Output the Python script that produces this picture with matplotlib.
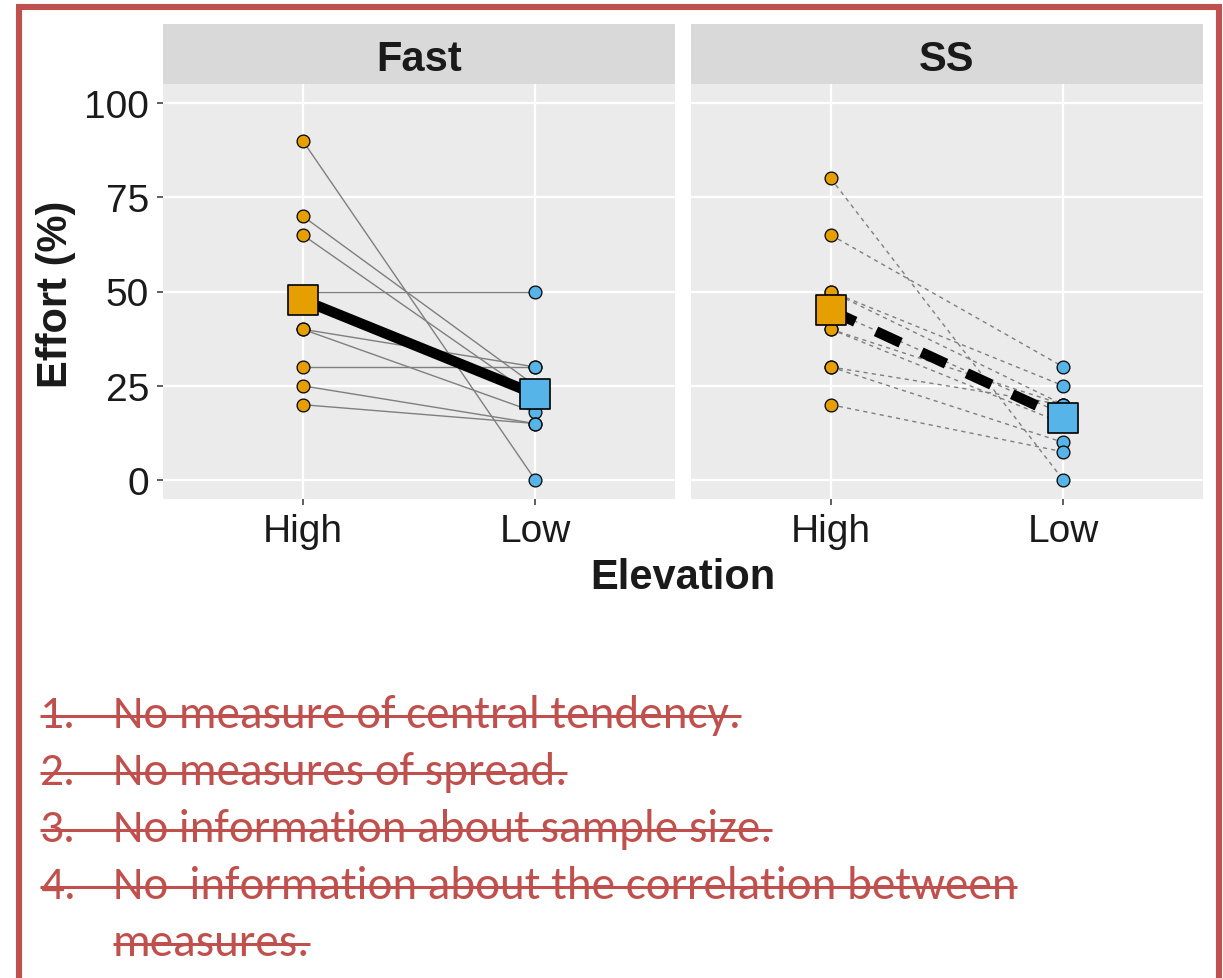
import matplotlib
matplotlib.use("Agg")
import matplotlib.pyplot as plt
import numpy as np
from matplotlib.lines import Line2D
from matplotlib.patches import Rectangle
from matplotlib import font_manager

# ---- data -------------------------------------------------------------
conditions = ["High", "Low"]
panels = ["Fast", "SS"]

fast_high = [90, 70, 65, 50, 40, 40, 30, 25, 20]
fast_low = [0, 25, 22, 50, 30, 18, 30, 15, 15]

ss_high = [80, 65, 50, 50, 45, 40, 40, 30, 30, 20]
ss_low = [0, 30, 25, 20, 17.5, 20, 15, 20, 10, 7.5]

y_ticks = [0, 25, 50, 75, 100]

notes = [
    ("1.", "No measure of central tendency."),
    ("2.", "No measures of spread."),
    ("3.", "No information about sample size."),
    ("4.", "No  information about the correlation between"),
    ("", "measures."),
]

# ---- style ------------------------------------------------------------
W, H = 1223, 979
ORANGE = "#E69F00"
BLUE = "#56B4E9"
PANEL_BG = "#EBEBEB"
STRIP_BG = "#D9D9D9"
ACCENT = "#C0504D"
INK = "#1a1a1a"

plt.rcParams["font.family"] = ["Liberation Sans", "DejaVu Sans"]


def pick_font(cands):
    names = {f.name for f in font_manager.fontManager.ttflist}
    for c in cands:
        if c in names:
            return c
    return "DejaVu Sans"


note_font = pick_font(["Carlito", "Liberation Sans Narrow", "Lato", "Open Sans"])

fig = plt.figure(figsize=(W / 100, H / 100), dpi=100)
fig.patch.set_facecolor("white")


def fx(px):
    return px / W


def fy(py):
    return 1 - py / H


panel_boxes = [(163, 675), (691, 1203)]
top_px, bot_px = 85, 500
strip_h = 60

datasets = [(fast_high, fast_low, "-", "-"),
            (ss_high, ss_low, (0, (3, 3)), (0, (2.6, 2.2)))]

for i, ((x0, x1), name, (hi, lo, ind_ls, mean_ls)) in enumerate(zip(panel_boxes, panels, datasets)):
    ax = fig.add_axes([fx(x0), fy(bot_px), (x1 - x0) / W, (bot_px - top_px) / H])
    ax.set_facecolor(PANEL_BG)
    ax.set_xlim(0.4, 2.6)
    ax.set_ylim(-5, 105)
    for s in ax.spines.values():
        s.set_visible(False)
    ax.set_yticks(y_ticks)
    ax.set_xticks([1, 2])
    ax.set_xticklabels(conditions)
    ax.grid(True, which="major", color="white", linewidth=1.6)
    ax.set_axisbelow(True)
    ax.tick_params(axis="both", which="major", length=4, width=1.1, color="#333333",
                   labelsize=28, labelcolor=INK, pad=6)
    if i == 1:
        ax.tick_params(axis="y", labelleft=False, length=0)

    hi = np.asarray(hi, float)
    lo = np.asarray(lo, float)
    for h, l in zip(hi, lo):
        ax.plot([1, 2], [h, l], color="#7F7F7F", linewidth=1.0,
                linestyle=ind_ls, zorder=2, solid_capstyle="butt", dash_capstyle="butt")
    ax.scatter(np.ones_like(hi), hi, s=85, facecolor=ORANGE, edgecolor="black",
               linewidth=0.9, zorder=3)
    ax.scatter(np.full_like(lo, 2), lo, s=85, facecolor=BLUE, edgecolor="black",
               linewidth=0.9, zorder=3)

    means = [hi.mean(), lo.mean()]
    ax.plot([1, 2], means, color="black", linewidth=7.5, linestyle=mean_ls,
            zorder=4, solid_capstyle="butt", dash_capstyle="butt")
    ax.scatter([1], [means[0]], s=440, marker="s", facecolor=ORANGE,
               edgecolor="black", linewidth=1.2, zorder=5)
    ax.scatter([2], [means[1]], s=440, marker="s", facecolor=BLUE,
               edgecolor="black", linewidth=1.2, zorder=5)

    # facet strip
    frac = strip_h / (bot_px - top_px)
    ax.add_patch(Rectangle((0, 1), 1, frac, transform=ax.transAxes,
                           facecolor=STRIP_BG, edgecolor="none", clip_on=False))
    ax.text(0.5, 1 + frac / 2 - 5 / (bot_px - top_px), name, transform=ax.transAxes,
            ha="center", va="center", fontsize=30, fontweight="bold", color=INK)

fig.text(fx(683), fy(578), "Elevation", ha="center", va="center",
         fontsize=30, fontweight="bold", color=INK)
fig.text(fx(56), fy(294), "Effort (%)", ha="center", va="center",
         rotation=90, fontsize=30, fontweight="bold", color=INK)

# outer frame (open at the bottom)
for xs, ys in [([19, 19], [8, H + 10]), ([16, 1222], [8, 8]), ([1219, 1219], [8, H + 10])]:
    fig.add_artist(Line2D([fx(v) for v in xs], [fy(v) for v in ys],
                          color=ACCENT, linewidth=4.4, solid_capstyle="butt"))

# struck-through notes
fig.canvas.draw()
renderer = fig.canvas.get_renderer()
y0, dy = 716, 57
for k, (num, txt) in enumerate(notes):
    yc = y0 + k * dy
    left = 40
    if num:
        fig.text(fx(left), fy(yc + 12), num, ha="left", va="baseline",
                 fontsize=34, color=ACCENT, family=[note_font, "DejaVu Sans"])
    t = fig.text(fx(113), fy(yc + 12), txt, ha="left", va="baseline",
                 fontsize=34, color=ACCENT, family=[note_font, "DejaVu Sans"])
    bb = t.get_window_extent(renderer)
    start = left if num else 113
    fig.add_artist(Line2D([fx(start), fx(bb.x1)], [fy(yc + 1), fy(yc + 1)],
                          color=ACCENT, linewidth=2.2, solid_capstyle="butt"))

fig.savefig("out.png", dpi=100, facecolor="white")
